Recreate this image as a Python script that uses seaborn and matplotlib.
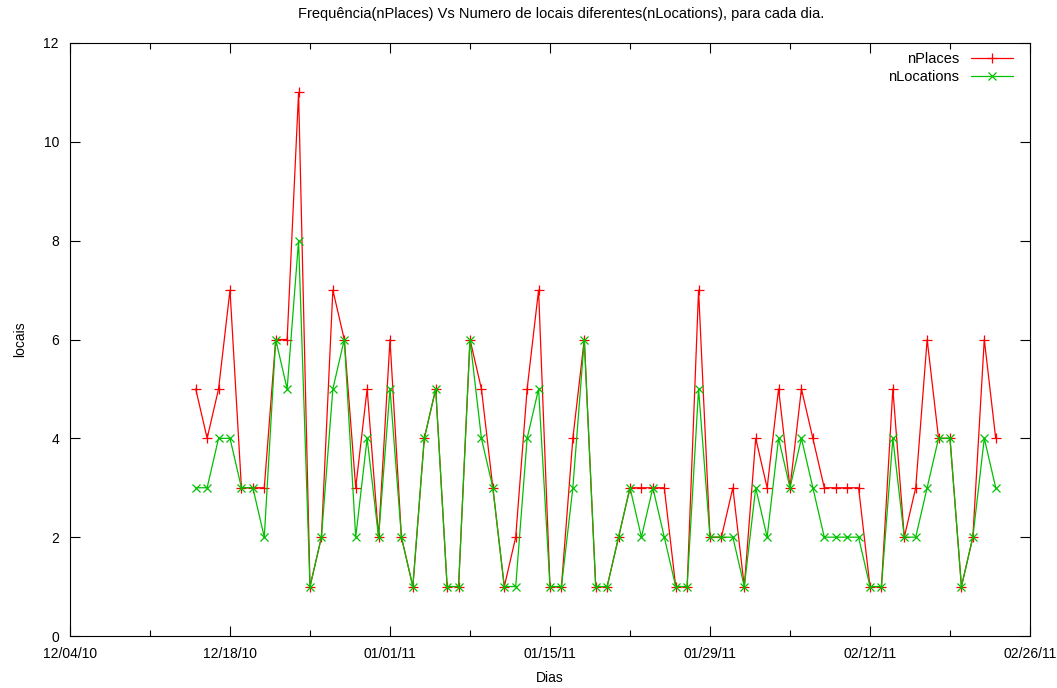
import matplotlib
matplotlib.use("Agg")
import matplotlib.pyplot as plt
import matplotlib.dates as mdates
from matplotlib import font_manager
import seaborn as sns
import pandas as pd
import numpy as np

start_date = "2010-12-15"
n_places = [5,4,5,7,3,3,3,6,6,11,
            1,2,7,6,3,5,2,6,2,1,
            4,5,1,1,6,5,3,1,2,5,
            7,1,1,4,6,1,1,2,3,3,
            3,3,1,1,7,2,2,3,1,4,
            3,5,3,5,4,3,3,3,3,1,
            1,5,2,3,6,4,4,1,2,6,4]
n_locations = [3,3,4,4,3,3,2,6,5,8,
               1,2,5,6,2,4,2,5,2,1,
               4,5,1,1,6,4,3,1,1,4,
               5,1,1,3,6,1,1,2,3,2,
               3,2,1,1,5,2,2,2,1,3,
               2,4,3,4,3,2,2,2,2,1,
               1,4,2,2,3,4,4,1,2,4,3]
dates = pd.date_range(start_date, periods=len(n_places), freq="D")

sns.set_style("white")
names = {f.name for f in font_manager.fontManager.ttflist}
fam = ["Liberation Sans Narrow"] if "Liberation Sans Narrow" in names else []
plt.rcParams["font.family"] = fam + ["Liberation Sans", "DejaVu Sans"]
plt.rcParams["text.color"] = "black"
plt.rcParams["axes.labelcolor"] = "black"
plt.rcParams["xtick.color"] = "black"
plt.rcParams["ytick.color"] = "black"

fig = plt.figure(figsize=(10.57, 6.88), dpi=100)
ax = fig.add_axes([70/1057, 1-636/688, 960/1057, 593/688])

red = "#ff0000"
green = "#00c000"
sns.lineplot(x=dates, y=n_places, ax=ax, color=red, marker="+",
             markersize=7, markeredgewidth=0.9, markeredgecolor=red,
             linewidth=0.9, label="nPlaces")
sns.lineplot(x=dates, y=n_locations, ax=ax, color=green, marker="x",
             markersize=5.5, markeredgewidth=0.9, markeredgecolor=green,
             linewidth=0.9, label="nLocations")

ax.set_xlim(pd.Timestamp("2010-12-04"), pd.Timestamp("2011-02-26"))
ax.set_ylim(0, 12)
ax.set_yticks(np.arange(0, 13, 2))
major = pd.date_range("2010-12-04", "2011-02-26", freq="14D")
minor = pd.date_range("2010-12-11", "2011-02-26", freq="14D")
ax.set_xticks(major)
ax.set_xticks(minor, minor=True)
ax.xaxis.set_major_formatter(mdates.DateFormatter("%m/%d/%y"))

for s in ax.spines.values():
    s.set_visible(True)
    s.set_color("black")
    s.set_linewidth(0.8)
ax.tick_params(which="both", direction="in", top=True, right=True, bottom=True, left=True,
               width=0.8, color="black", labelcolor="black", labelsize=10, pad=8)
ax.tick_params(which="major", length=7)
ax.tick_params(which="minor", length=4)

ax.set_xlabel("Dias", fontsize=10, labelpad=7)
ax.set_ylabel("locais", fontsize=10, labelpad=12)
ax.set_title("Frequência(nPlaces) Vs Numero de locais diferentes(nLocations), para cada dia.",
             fontsize=10.5, pad=18, x=0.512)

leg = ax.legend(loc="upper right", bbox_to_anchor=(0.9885, 0.994), frameon=False,
                markerfirst=False, fontsize=10.5, handlelength=2.9,
                borderaxespad=0.0, labelspacing=0.25)
for t in leg.get_texts():
    t.set_ha("right")

fig.savefig("out.png", dpi=100)
